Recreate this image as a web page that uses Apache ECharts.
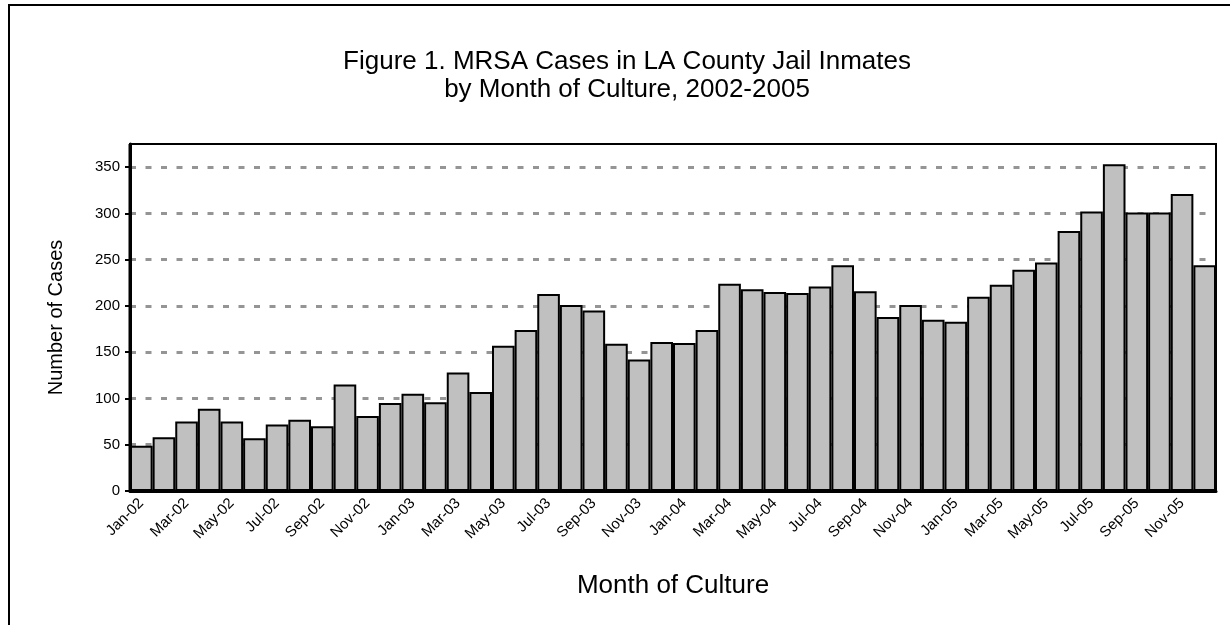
<!DOCTYPE html>
<html>
<head>
<meta charset="utf-8">
<script src="https://cdn.jsdelivr.net/npm/echarts@6/dist/echarts.min.js"></script>
<style>
html,body{margin:0;padding:0;background:#fff;}
#chart{width:1230px;height:625px;}
</style>
</head>
<body>
<div id="chart"></div>
<script>
const months = ["Jan","Feb","Mar","Apr","May","Jun","Jul","Aug","Sep","Oct","Nov","Dec"];
const years = ["02","03","04","05"];
const categories = [];
years.forEach(y => months.forEach(m => categories.push(m + "-" + y)));

const cases = [
  49, 58, 75, 89, 75, 57, 72, 77, 70, 115, 81, 95,
  105, 96, 128, 107, 157, 174, 213, 201, 195, 159, 142, 161,
  160, 174, 224, 218, 215, 214, 221, 244, 216, 188, 201, 185,
  183, 210, 223, 239, 247, 281, 302, 353, 301, 301, 321, 244
];
const yTicks = [0, 50, 100, 150, 200, 250, 300, 350];

const titleText = "Figure 1. MRSA Cases in LA County Jail Inmates\nby Month of Culture, 2002-2005";
const xAxisName = "Month of Culture";
const yAxisName = "Number of Cases";

const chart = echarts.init(document.getElementById('chart'), null, {renderer: 'canvas'});
const font = "'Liberation Sans', Arial, sans-serif";

const G = {left: 130, right: 14, top: 144, bottom: 134};

chart.setOption({
  animation: false,
  backgroundColor: '#ffffff',
  title: {
    text: titleText,
    left: 622,
    textAlign: 'center',
    top: 43,
    textStyle: {
      fontFamily: font,
      fontSize: 26,
      fontWeight: 'normal',
      color: '#000',
      lineHeight: 28
    }
  },
  graphic: [{
    type: 'rect',
    shape: {x: 9, y: 5, width: 1260, height: 660},
    style: {fill: 'none', stroke: '#000', lineWidth: 2},
    silent: true,
    z: 100
  }, {
    type: 'rect',
    shape: {x: G.left, y: G.top, width: 1230 - G.left - G.right, height: 625 - G.top - G.bottom},
    style: {fill: 'none', stroke: '#000', lineWidth: 2},
    silent: true,
    z: 100
  }, {
    type: 'line',
    shape: {x1: G.left, y1: G.top, x2: G.left, y2: 625 - G.bottom},
    style: {stroke: '#000', lineWidth: 3},
    silent: true,
    z: 100
  }, {
    type: 'line',
    shape: {x1: G.left, y1: 625 - G.bottom, x2: 1230 - G.right, y2: 625 - G.bottom},
    style: {stroke: '#000', lineWidth: 3},
    silent: true,
    z: 100
  }],
  grid: {
    left: G.left,
    right: G.right,
    top: G.top,
    bottom: G.bottom,
    show: false
  },
  xAxis: {
    type: 'category',
    data: categories,
    name: xAxisName,
    nameLocation: 'middle',
    nameGap: 82,
    nameTextStyle: {fontFamily: font, fontSize: 26, color: '#000'},
    axisLine: {show: true, lineStyle: {color: '#000', width: 3}},
    axisTick: {show: false},
    axisLabel: {
      interval: 1,
      rotate: 45,
      fontFamily: font,
      fontSize: 15,
      color: '#000',
      margin: 10
    },
    z: 1
  },
  yAxis: {
    type: 'value',
    min: 0,
    max: 375,
    interval: 50,
    name: yAxisName,
    nameLocation: 'middle',
    nameGap: 64,
    nameTextStyle: {fontFamily: font, fontSize: 20, color: '#000'},
    axisLine: {show: true, lineStyle: {color: '#000', width: 3}},
    axisTick: {show: true, length: 5, customValues: yTicks, lineStyle: {color: '#000', width: 2}},
    axisLabel: {
      customValues: yTicks,
      fontFamily: font,
      fontSize: 15,
      color: '#000',
      margin: 10
    },
    splitLine: {show: true, lineStyle: {color: '#959595', width: 3, type: [6, 9.5]}},
    z: 1
  },
  series: [{
    type: 'bar',
    data: cases,
    barCategoryGap: '0%',
    itemStyle: {color: '#c0c0c0', borderColor: '#000', borderWidth: 2},
    z: 10
  }]
});
</script>
</body>
</html>
